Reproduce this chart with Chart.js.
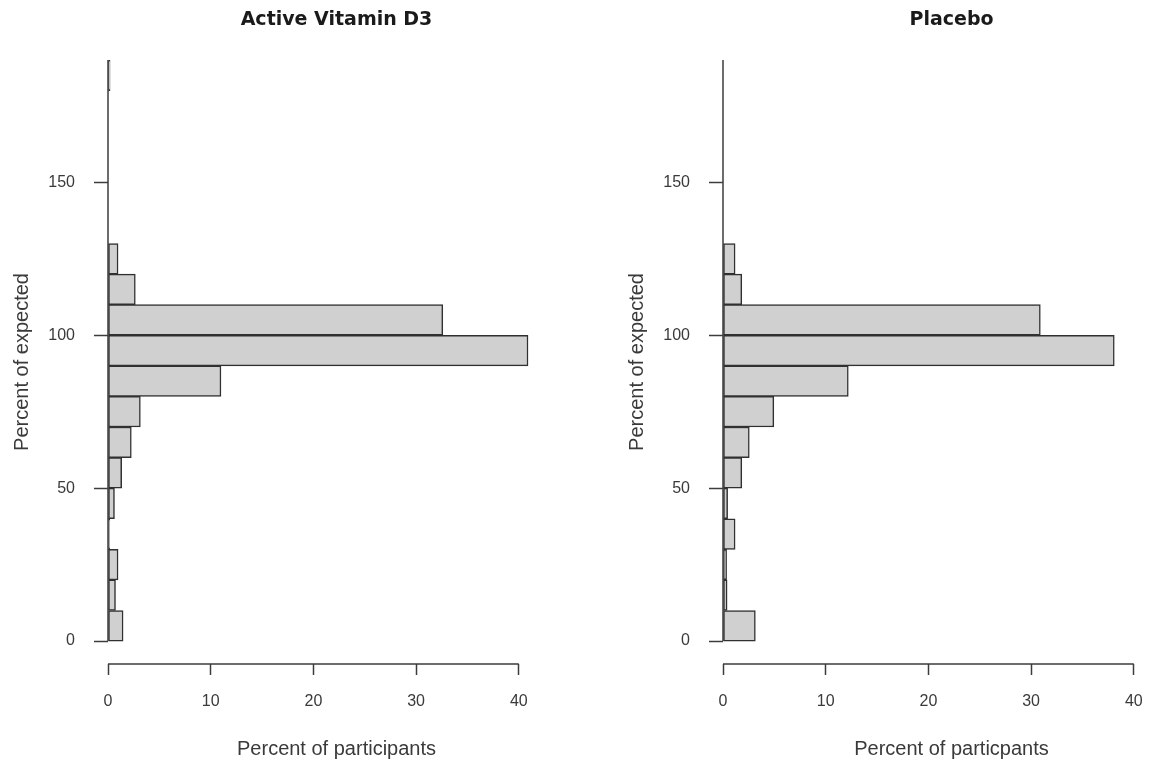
<!DOCTYPE html>
<html>
<head>
<meta charset="utf-8">
<script src="https://cdn.jsdelivr.net/npm/chart.js@4.4.1/dist/chart.umd.min.js"></script>
<style>
  html, body { margin: 0; padding: 0; background: #fff; overflow: hidden; }
  body { width: 1155px; height: 769px; position: relative; }
  canvas { position: absolute; top: 0; }
  #activeChart { left: 0; }
  #placeboChart { left: 615px; }
</style>
</head>
<body>
<canvas id="activeChart" width="577" height="769"></canvas>
<canvas id="placeboChart" width="577" height="769"></canvas>
<script>
// histogram bins (lower edge, percent of expected), each 10 wide
const binStarts = [0, 10, 20, 30, 40, 50, 60, 70, 80, 90, 100, 110, 120, 130, 140, 150, 160, 170, 180];
// percent of participants in each bin
const activeValues = [1.47, 0.73, 0.98, 0.17, 0.63, 1.33, 2.27, 3.15, 11.0, 40.9, 32.6, 2.66, 0.98, 0, 0, 0, 0, 0, 0.2];
const placeboValues = [3.15, 0.4, 0.35, 1.18, 0.45, 1.83, 2.56, 4.95, 12.2, 38.1, 30.9, 1.83, 1.18, 0, 0, 0, 0, 0, 0];
const yTicks = [0, 50, 100, 150];
const xTicks = [0, 10, 20, 30, 40];

const titles = ['Active Vitamin D3', 'Placebo'];
const xTitles = ['Percent of participants', 'Percent of particpants'];
const yTitle = 'Percent of expected';

const axisColor = '#3c3c3c';
const textColor = '#3a3a3a';

// R style axis lines that stop at the end ticks
const axisLines = {
  id: 'axisLines',
  afterDatasetsDraw(chart) {
    const { ctx, scales: { x, y }, chartArea } = chart;
    ctx.save();
    ctx.strokeStyle = axisColor;
    ctx.lineWidth = 1.5;
    ctx.beginPath();
    const x0 = x.getPixelForValue(0);
    ctx.moveTo(x0, y.getPixelForValue(yTicks[0]));
    ctx.lineTo(x0, y.getPixelForValue(190));
    ctx.moveTo(x.getPixelForValue(xTicks[0]), chartArea.bottom);
    ctx.lineTo(x.getPixelForValue(xTicks[xTicks.length - 1]), chartArea.bottom);
    ctx.stroke();
    ctx.restore();
  }
};

function makeChart(canvasId, values, title, xTitle) {
  return new Chart(document.getElementById(canvasId), {
    type: 'bar',
    data: {
      datasets: [{
        data: binStarts.map((b, i) => ({ x: values[i], y: b + 5 })),
        backgroundColor: '#d0d0d0',
        borderColor: '#303030',
        borderWidth: 1.5,
        borderSkipped: false,
        barPercentage: 1,
        categoryPercentage: 1
      }]
    },
    options: {
      indexAxis: 'y',
      responsive: false,
      animation: false,
      layout: { padding: { left: 0, right: 12, top: 0, bottom: 5 } },
      plugins: {
        legend: { display: false },
        tooltip: { enabled: false },
        title: {
          display: true,
          text: title,
          fullSize: false,
          color: '#1a1a1a',
          font: { family: 'DejaVu Sans', size: 19, weight: 'bold', lineHeight: 1.2 },
          padding: { top: 8.6, bottom: 28.6 }
        }
      },
      scales: {
        x: {
          type: 'linear',
          position: 'bottom',
          min: 0,
          max: 44.5,
          offset: false,
          border: { display: false },
          grid: { offset: false, drawOnChartArea: false, tickLength: 11, tickColor: axisColor, tickWidth: 1.5 },
          ticks: { padding: 17, color: textColor, font: { family: 'Liberation Sans', size: 16 } },
          afterBuildTicks(scale) { scale.ticks = xTicks.map(v => ({ value: v })); },
          title: { display: true, text: xTitle, color: textColor,
                   font: { family: 'Liberation Sans', size: 20 }, padding: { top: 0, bottom: 3 } },
          afterFit(scale) { scale.height = 100; }
        },
        y: {
          type: 'linear',
          min: -7.5,
          max: 190,
          offset: false,
          border: { display: false },
          grid: { offset: false, drawOnChartArea: false, tickLength: 14, tickColor: axisColor, tickWidth: 1.5 },
          ticks: { padding: 19, color: textColor, font: { family: 'Liberation Sans', size: 16 } },
          afterBuildTicks(scale) { scale.ticks = yTicks.map(v => ({ value: v })); },
          title: { display: true, text: yTitle, color: textColor,
                   font: { family: 'Liberation Sans', size: 20 }, padding: { top: 10, bottom: 0 } },
          afterFit(scale) { scale.width = 108; }
        }
      }
    },
    plugins: [axisLines]
  });
}

makeChart('activeChart', activeValues, titles[0], xTitles[0]);
makeChart('placeboChart', placeboValues, titles[1], xTitles[1]);
</script>
</body>
</html>
